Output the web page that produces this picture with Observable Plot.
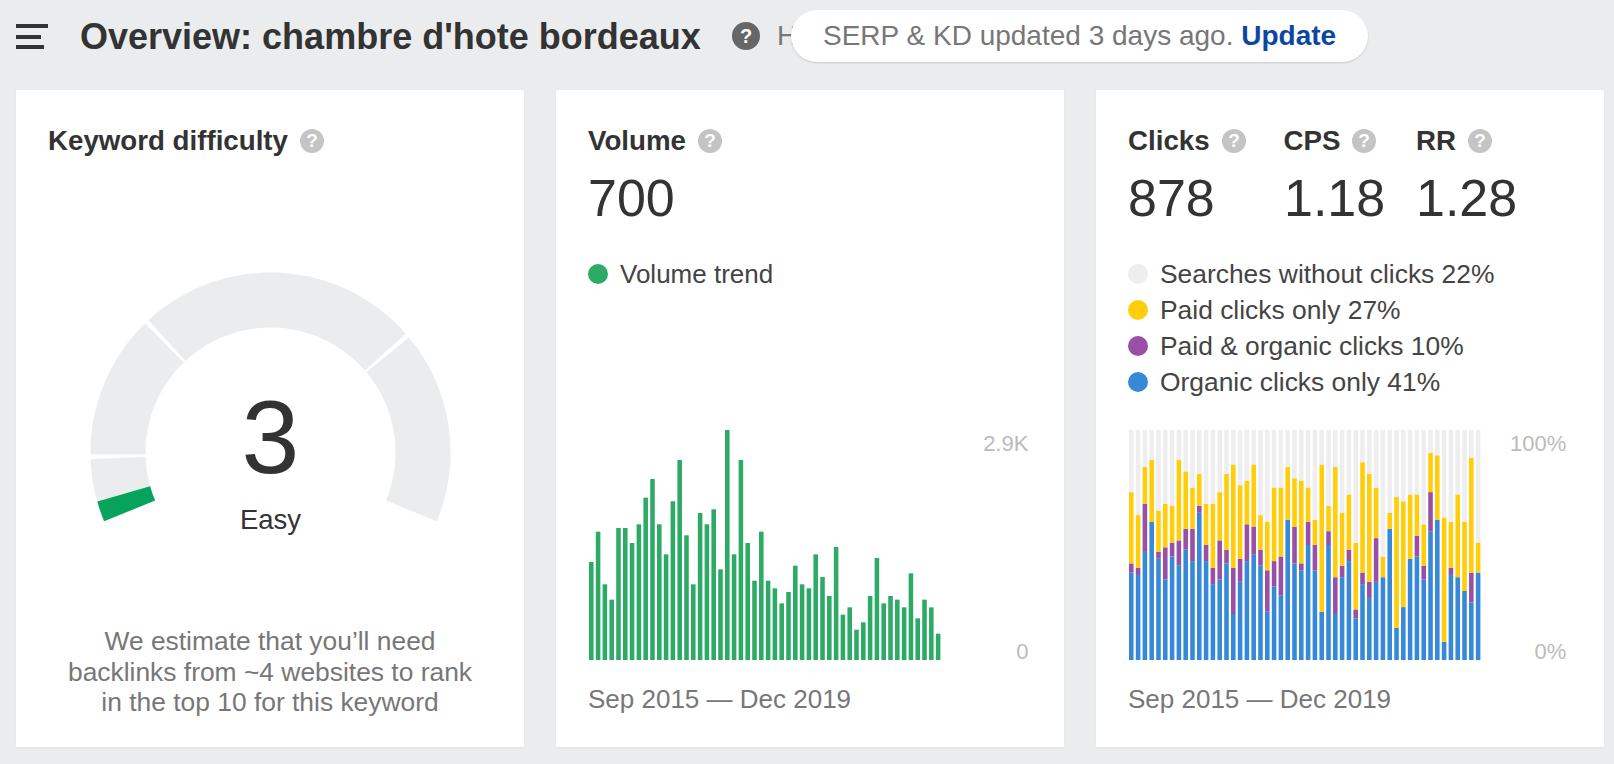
<!DOCTYPE html>
<html><head><meta charset="utf-8">
<script src="https://cdn.jsdelivr.net/npm/d3@7"></script>
<script src="https://cdn.jsdelivr.net/npm/@observablehq/plot@0.6"></script>
<style>
html,body{margin:0;padding:0;background:#ebecee;}
#page{position:relative;width:1614px;height:764px;overflow:hidden;background:#ebecee;font-family:"Liberation Sans",Arial,sans-serif;color:#333;}
.abs{position:absolute;white-space:nowrap;line-height:1;}
.card{position:absolute;top:90px;width:508px;height:657px;background:#fff;box-shadow:0 1px 2px rgba(0,0,0,.04);}
.h{font-weight:700;font-size:27.7px;color:#333;}
.num{font-family:"Liberation Sans",sans-serif;font-size:52px;color:#333;}
.t{font-size:26px;color:#444;}
.g{font-size:26px;color:#777;}
.q{position:absolute;width:24px;height:24px;border-radius:50%;background:#c4c4c4;color:#fff;font-weight:700;font-size:19px;line-height:24px;text-align:center;}
.dot{position:absolute;width:20px;height:20px;border-radius:50%;}
.bar{position:absolute;left:16px;height:4px;background:#333;}
.plot{position:absolute;}
.plot svg{display:block;background:transparent;}
</style></head><body>
<div id="page"></div>
<script>
// ---------- chart values ----------
const kdValue = 3;
const kdLabel = "Easy";
const gaugeStarts = [0, 9.7, 31, 72.3];
const gaugeEnds = [9.1, 30.4, 71.7, 100];
const volumeTrend = [1236,1618,954,761,1664,1664,1475,1711,2047,2282,1711,1332,2001,2522,1572,954,1853,1711,1900,1143,2900,1332,2522,1475,1000,1618,1000,904,714,857,1189,954,904,1332,1047,807,1425,572,664,382,475,807,1286,714,807,761,664,1093,525,761,664,332];
const organicOnly = [38,37,47,60,44,35,45,41,48,43,64,43,33,35,42,20,34,43,46,41,21,32,28,61,42,39,50,39,21,50,20,36,43,18,33,27,34,36,57,14,23,44,45,35,56,61,8,37,36,30,25,38];
const paidOrganic = [4,3,21,0,3,14,6,11,9,14,3,7,7,17,6,20,10,16,12,7,18,11,17,0,16,3,10,11,0,6,16,5,5,4,5,7,19,0,0,0,0,0,9,6,17,0,0,3,0,0,13,0];
const paidOnly = [31,23,16,27,18,19,16,35,25,18,14,18,28,21,33,45,32,19,27,15,21,32,30,23,21,36,15,11,64,11,48,23,24,29,48,47,22,9,7,57,46,28,18,18,17,28,54,20,36,30,50,13];
const noClicks = [27,37,16,13,35,32,33,13,18,25,19,32,32,27,19,15,24,22,15,37,40,25,25,16,21,22,25,39,15,33,16,36,28,49,14,19,25,55,36,29,31,28,28,41,10,11,38,40,28,40,12,49];
const seriesNames = ["Organic clicks only","Paid & organic clicks","Paid clicks only","Searches without clicks"];
const seriesColors = ["#3689d9","#984fa6","#ffcd0a","#eeeeee"];
const seriesShares = [41,10,27,22];
const volumeTicks = [2900,0];
const volumeTickLabels = ["2.9K","0"];
const clicksTicks = [100,0];
const clicksTickLabels = ["100%","0%"];
const dateRange = "Sep 2015 — Dec 2019";
// ----------------------------------
const page = document.getElementById("page");
function el(cls, css, html){const d=document.createElement("div");d.className=cls;d.style.cssText=css;if(html!==undefined)d.innerHTML=html;page.appendChild(d);return d;}
function txt(cls,x,cy,s,extra=""){return el("abs "+cls,`left:${x}px;top:${cy}px;transform:translateY(-50%);${extra}`,s);}
function q(x,cy,bg){el("q",`left:${x-12}px;top:${cy-12}px;${bg?`background:${bg};`:""}`,"?");}
function addPlot(node,x,y){const w=document.createElement("div");w.className="plot";w.style.cssText=`left:${x}px;top:${y}px;`;w.appendChild(node);page.appendChild(w);}

// header
el("bar","top:24px;width:32px");el("bar","top:34.5px;width:25px");el("bar","top:44.5px;width:28px");
txt("",80,37,"Overview: chambre d'hote bordeaux","font-weight:700;font-size:36px;color:#333;");
el("q","left:732px;top:22px;width:28px;height:28px;line-height:28px;font-size:20px;background:#666;","?");
txt("",777,36,"H","font-size:28px;color:#777;");
el("abs","left:791px;top:10px;width:577px;height:52px;border-radius:26px;background:#fff;box-shadow:0 1px 2px rgba(0,0,0,.15);");
txt("",823,36,'SERP &amp; KD updated 3 days ago. <b style="color:#0b47a1">Update</b>',"font-size:28px;color:#777;");

// cards
[16,556,1096].forEach(x=>el("card",`left:${x}px`));

// card 1
txt("h",48,141,"Keyword difficulty");q(312,141);
["We estimate that you’ll need","backlinks from ~4 websites to rank","in the top 10 for this keyword"].forEach((s,i)=>{
  el("abs g",`left:16px;width:508px;text-align:center;top:${[641,671.5,701.5][i]}px;transform:translateY(-50%);font-size:26.4px;`,s);
});

const radius = 152.5, sweep = 225;
function arcPoints(from,to,id){
  const pts=[];const n=Math.max(2,Math.ceil((to-from)*2));
  for(let i=0;i<=n;i++){const v=from+(to-from)*i/n;const a=(202.5-v/100*sweep)*Math.PI/180;pts.push({x:radius*Math.cos(a),y:radius*Math.sin(a),id});}
  return pts;
}
const track = gaugeStarts.flatMap((s,i)=>arcPoints(s,gaugeEnds[i],i));
const level = arcPoints(0,kdValue,"v");
addPlot(Plot.plot({
  width:400,height:280,margin:0,
  x:{domain:[-200,200],axis:null},
  y:{domain:[-90,190],axis:null},
  style:{background:"transparent"},
  marks:[
    Plot.line(track,{x:"x",y:"y",z:"id",stroke:"#ebecee",strokeWidth:55,strokeLinecap:"butt",strokeLinejoin:"round"}),
    Plot.line(level,{x:"x",y:"y",z:"id",stroke:"#06a35c",strokeWidth:55,strokeLinecap:"butt",strokeLinejoin:"round"}),
    Plot.text([kdValue],{x:0,y:()=>12.5,text:d=>String(d),fontSize:104,fontFamily:"Liberation Sans",fill:"#333",lineAnchor:"middle"}),
    Plot.text([kdLabel],{x:0,y:()=>-67.5,text:d=>d,fontSize:27.5,fontFamily:"Liberation Sans",fill:"#333",lineAnchor:"middle"})
  ]
}),70,262);

// card 2
txt("h",588,141,"Volume");q(710,141);
txt("num",588,198,"700");
el("dot",`left:588px;top:264px;background:#2caa66`);
txt("t",620,274,"Volume trend");
const band = {paddingInner:.33,paddingOuter:0,round:false};
addPlot(Plot.plot({
  width:508,height:270,marginLeft:33,marginRight:123.6,marginTop:20,marginBottom:20,
  x:{...band,type:"band",domain:d3.range(volumeTrend.length),axis:null},
  y:{domain:[0,2900],axis:null},
  style:{background:"transparent",fontFamily:"Liberation Sans"},
  marks:[
    Plot.barY(volumeTrend,{x:(d,i)=>i,y:d=>d,fill:"#2caa66"}),
    Plot.axisY({ticks:[volumeTicks[0]],tickFormat:()=>volumeTickLabels[0],anchor:"right",tickSize:0,tickPadding:0,textAnchor:"end",dx:87.5,dy:13,fontSize:22,color:"#bbb",label:null}),
    Plot.axisY({ticks:[volumeTicks[1]],tickFormat:()=>volumeTickLabels[1],anchor:"right",tickSize:0,tickPadding:0,textAnchor:"end",dx:87.5,dy:-9,fontSize:22,color:"#bbb",label:null})
  ]
}),556,410);
txt("g",588,699,dateRange);

// card 3
txt("h",1128,141,"Clicks");q(1234,141);
txt("h",1283.5,141,"CPS");q(1364,141);
txt("h",1416,141,"RR");q(1480,141);
txt("num",1128,198,"878");txt("num",1284,198,"1.18");txt("num",1416,198,"1.28");
[3,2,1,0].forEach((k,i)=>{
  const y=273.5+i*36;
  el("dot",`left:1128px;top:${y-10}px;background:${seriesColors[k]}`);
  txt("t",1160,y,`${seriesNames[k]} ${seriesShares[k]}%`,"font-size:26.4px;");
});
const stacked = [organicOnly,paidOrganic,paidOnly,noClicks].flatMap((s,k)=>s.map((v,i)=>({i,v,name:seriesNames[k]})));
addPlot(Plot.plot({
  width:508,height:270,marginLeft:33,marginRight:123.6,marginTop:20,marginBottom:20,
  x:{...band,type:"band",domain:d3.range(organicOnly.length),axis:null},
  y:{domain:[0,100],axis:null},
  color:{domain:seriesNames,range:seriesColors},
  style:{background:"transparent",fontFamily:"Liberation Sans"},
  marks:[
    Plot.barY(stacked,{x:"i",y:"v",fill:"name",order:seriesNames}),
    Plot.axisY({ticks:[clicksTicks[0]],tickFormat:()=>clicksTickLabels[0],anchor:"right",tickSize:0,tickPadding:0,textAnchor:"end",dx:85.5,dy:13,fontSize:22,color:"#bbb",label:null}),
    Plot.axisY({ticks:[clicksTicks[1]],tickFormat:()=>clicksTickLabels[1],anchor:"right",tickSize:0,tickPadding:0,textAnchor:"end",dx:85.5,dy:-9,fontSize:22,color:"#bbb",label:null})
  ]
}),1096,410);
txt("g",1128,699,dateRange);
</script>
</body></html>
